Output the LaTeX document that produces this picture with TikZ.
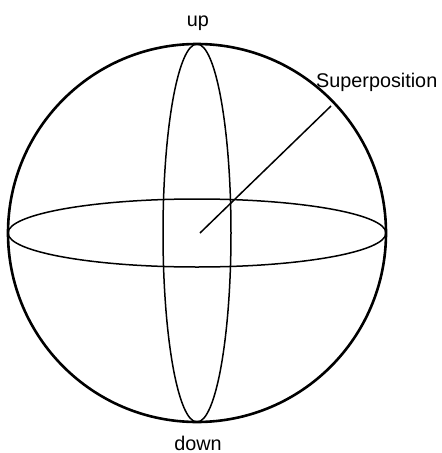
\documentclass[tikz,border=0pt]{standalone}
\usepackage{fontspec}
\setmainfont{Liberation Sans}
\usetikzlibrary{calc}

\begin{document}
\begin{tikzpicture}[x=1pt,y=1pt,yscale=-1,xscale=1]
\tikzset{label text/.style={font=\fontsize{19.8}{23}\selectfont, inner sep=0pt}}
\useasboundingbox (0,0) rectangle (442,453);

%Shape: Circle (sphere)
\draw [line width=2.6] (197,233) circle (189);
%Shape: Ellipse (equator)
\draw [line width=1.5] (197,233) ellipse (189 and 34);
%Shape: Ellipse (meridian)
\draw [line width=1.5] (197,233) ellipse (34 and 189);

%Straight Lines (state vector)
\coordinate (origin) at (200,233);
\coordinate (state) at (331,106);
\draw [line width=1.5] (origin) -- (state);

% Text Node
\node [label text, anchor=base] (up) at (198,26) {up};
% Text Node
\node [label text, anchor=base] (down) at (198,450) {down};
% Text Node
\node [label text, anchor=base west] (superpos) at (316,87) {Superposition};

\end{tikzpicture}
\end{document}
